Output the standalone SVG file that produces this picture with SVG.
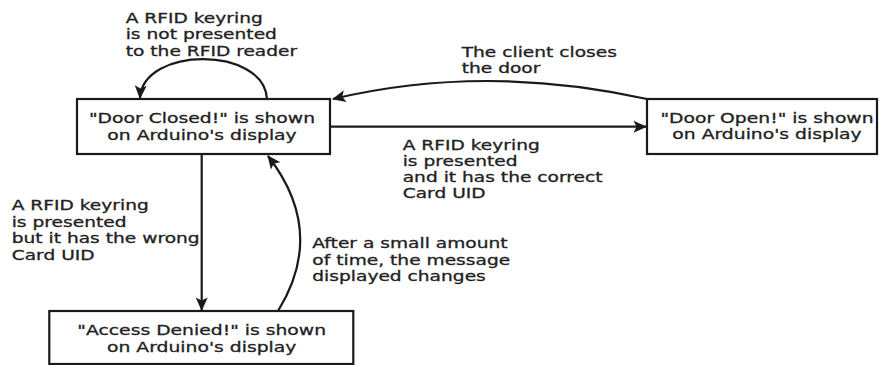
<svg xmlns="http://www.w3.org/2000/svg" width="879" height="365" viewBox="0 0 879 365">
<style>
.box{fill:#fff;stroke:#1a1a1a;stroke-width:2.2}
.edge{fill:none;stroke:#1a1a1a;stroke-width:2.2}
text{font-family:"DejaVu Sans","Liberation Sans",sans-serif;font-size:14px;fill:#222;stroke:#222;stroke-width:0.3}
.c{text-anchor:middle}
</style>
<defs>
<marker id="ah" markerUnits="userSpaceOnUse" markerWidth="16" markerHeight="14" viewBox="-14 -7 16 14" refX="0" refY="0" orient="auto">
<path d="M1,0 L-12.5,-6 L-9.5,0 L-12.5,6 z" fill="#1a1a1a"/>
</marker>
</defs>
<rect width="879" height="365" fill="#fff"/>
<g id="connectors">
<path class="edge" d="M267,99 C264,46 143,46 140,98" marker-end="url(#ah)"/>
<path class="edge" d="M647,99 Q484.5,63 333,99" marker-end="url(#ah)"/>
<path class="edge" d="M331,126.7 L646,126.7" marker-end="url(#ah)"/>
<path class="edge" d="M201.7,155 L201.7,310" marker-end="url(#ah)"/>
<path class="edge" d="M278,311 Q327,232 268,156" marker-end="url(#ah)"/>
</g>
<g id="labels">
<text transform="translate(125.7,23) scale(1.33,1)"><tspan x="0">A RFID keyring</tspan><tspan x="0" dy="16.4">is not presented</tspan><tspan x="0" dy="16.4">to the RFID reader</tspan></text>
<text transform="translate(461.7,57.3) scale(1.33,1)"><tspan x="0">The client closes</tspan><tspan x="0" dy="16">the door</tspan></text>
<text transform="translate(402.7,149.5) scale(1.33,1)"><tspan x="0">A RFID keyring</tspan><tspan x="0" dy="16.3">is presented</tspan><tspan x="0" dy="16.3">and it has the correct</tspan><tspan x="0" dy="16.3">Card UID</tspan></text>
<text transform="translate(11.7,210) scale(1.33,1)"><tspan x="0">A RFID keyring</tspan><tspan x="0" dy="16.7">is presented</tspan><tspan x="0" dy="16.7">but it has the wrong</tspan><tspan x="0" dy="16.7">Card UID</tspan></text>
<text transform="translate(312.3,248.3) scale(1.33,1)"><tspan x="0">After a small amount</tspan><tspan x="0" dy="16.4">of time, the message</tspan><tspan x="0" dy="16.4">displayed changes</tspan></text>
</g>
<g id="door-closed">
<rect class="box" x="77" y="99" width="253" height="55"/>
<text class="c" transform="translate(202,123.3) scale(1.34,1)"><tspan x="0">"Door Closed!" is shown</tspan><tspan x="0" dy="16.7">on Arduino's display</tspan></text>
</g>
<g id="door-open">
<rect class="box" x="647" y="99" width="230" height="55"/>
<text class="c" transform="translate(767,123.3) scale(1.34,1)"><tspan x="0">"Door Open!" is shown</tspan><tspan x="0" dy="16">on Arduino's display</tspan></text>
</g>
<g id="access-denied">
<rect class="box" x="49.3" y="311" width="304" height="53"/>
<text class="c" transform="translate(201.7,335) scale(1.34,1)"><tspan x="0">"Access Denied!" is shown</tspan><tspan x="0" dy="16.7">on Arduino's display</tspan></text>
</g>
</svg>
